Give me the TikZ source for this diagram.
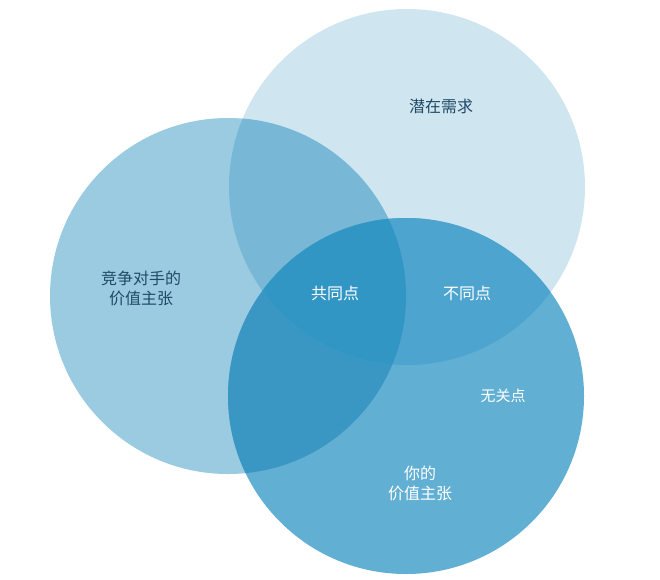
\documentclass[tikz,border=0pt]{standalone}
\usepackage{fontspec}
\setmainfont{Noto Sans CJK SC}
\definecolor{cT}{HTML}{CFE5EF}
\definecolor{cL}{HTML}{9ACBE1}
\definecolor{cB}{HTML}{62AFD4}
\definecolor{cTL}{HTML}{78B8D6}
\definecolor{cLB}{HTML}{3A97C3}
\definecolor{cTB}{HTML}{4DA4CE}
\definecolor{cTLB}{HTML}{3196C3}
\definecolor{dark}{HTML}{1F4A66}
\begin{document}
\begin{tikzpicture}[x=1pt,y=-1pt,
  lbl/.style={font=\fontsize{16}{20}\selectfont,align=center,text=white},
  dlbl/.style={lbl,text=dark}]
\useasboundingbox (0,0) rectangle (660,579);
\def\T{(407,187) circle (178)}
\def\L{(228,296) circle (178)}
\def\B{(406,396) circle (178)}
\fill[cT] \T; \fill[cL] \L; \fill[cB] \B;
\begin{scope}\clip \T; \fill[cTL] \L; \end{scope}
\begin{scope}\clip \L; \fill[cLB] \B; \end{scope}
\begin{scope}\clip \T; \fill[cTB] \B; \end{scope}
\begin{scope}\clip \T; \clip \L; \fill[cTLB] \B; \end{scope}
\node[dlbl] (n1) at (441,106) {潜在需求};
\node[dlbl] (n2) at (141,288) {竞争对手的\\价值主张};
\node[lbl] (n3) at (335,293) {共同点};
\node[lbl] (n4) at (467,293) {不同点};
\node[lbl,font=\fontsize{15}{18}\selectfont] (n5) at (503,396) {无关点};
\node[lbl] (n6) at (420,483) {你的\\价值主张};
\end{tikzpicture}
\end{document}
